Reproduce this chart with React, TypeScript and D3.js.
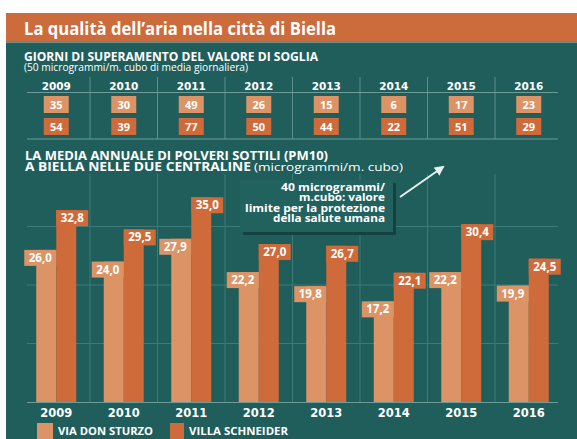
import React from "react";
import * as d3 from "d3";

const years = ["2009", "2010", "2011", "2012", "2013", "2014", "2015", "2016"];
const daysDonSturzo = [35, 30, 49, 26, 15, 6, 17, 23];
const daysSchneider = [54, 39, 77, 50, 44, 22, 51, 29];
const pmDonSturzo = [26.0, 24.0, 27.9, 22.2, 19.8, 17.2, 22.2, 19.9];
const pmSchneider = [32.8, 29.5, 35.0, 27.0, 26.7, 22.1, 30.4, 24.5];
const gridValues = [10, 20, 30];
const legendLabels = ["VIA DON STURZO", "VILLA SCHNEIDER"];
const noteLines = ["40 microgrammi/", "m.cubo: valore", "limite per la protezione", "della salute umana"];
const noteWidths = [104, 86, 140, 112];

const TEAL = "#1f5e5b";
const LIGHT = "#dc9467";
const DARK = "#cf6a3b";
const HEADER = "#cc6b3c";
const GRID = "#3d7b78";
const FONT = "'Open Sans', 'DejaVu Sans', sans-serif";
const WIDE = "'DejaVu Sans', sans-serif";

export default function App() {
  const W = 577;
  const H = 439;
  const x = d3.scaleBand<string>().domain(years).range([22.5, 562.5]).padding(0);
  const y = d3.scaleLinear().domain([0, 40]).range([402, 168]);
  const barW = 20;
  const fmt = (v: number) => d3.format(".1f")(v).replace(".", ",");
  const cx = (yr: string) => (x(yr) as number) + x.bandwidth() / 2;
  const separators = years.slice(1).map((yr) => x(yr) as number);

  return (
    <svg width={W} height={H} style={{ display: "block", position: "absolute", left: 0, top: 0 }} fontFamily={FONT}>
      <defs>
        <marker id="arr" viewBox="0 0 10 10" refX="8" refY="5" markerWidth="5" markerHeight="5" orient="auto">
          <path d="M0,0 L10,5 L0,10 z" fill="#e8f0ef" />
        </marker>
      </defs>
      <rect x={0} y={0} width={W} height={H} fill="#ffffff" />
      {/* header */}
      <rect x={6} y={13} width={W - 6} height={28} fill={HEADER} />
      <rect x={6} y={41} width={W - 6} height={1.5} fill="#8a7a6e" />
      <rect x={6} y={42.5} width={W - 6} height={H - 42.5} fill={TEAL} />
      <text x={24} y={35} fill="#fff" fontWeight={700} fontSize={17.5} textLength={312} lengthAdjust="spacingAndGlyphs">
        La qualità dell’aria nella città di Biella
      </text>

      {/* table section */}
      <text x={24} y={60.5} fill="#fff" fontWeight={700} fontSize={11.5} textLength={294} lengthAdjust="spacingAndGlyphs">
        GIORNI DI SUPERAMENTO DEL VALORE DI SOGLIA
      </text>
      <text x={24} y={71} fill="#fff" fontSize={11} textLength={224} lengthAdjust="spacingAndGlyphs">
        (50 microgrammi/m. cubo di media giornaliera)
      </text>
      {separators.map((sx, i) => (
        <line key={"ts" + i} x1={sx} x2={sx} y1={77} y2={139} stroke="#5d8f8c" strokeWidth={1} />
      ))}
      <line x1={27} x2={558} y1={92.5} y2={92.5} stroke="#6f9c99" strokeWidth={1.2} />
      <line x1={27} x2={558} y1={139} y2={139} stroke="#6f9c99" strokeWidth={1.2} />
      {years.map((yr, i) => (
        <g key={"t" + yr}>
          <text x={cx(yr)} y={89.5} textAnchor="middle" fill="#fff" fontWeight={700} fontSize={10.5} fontFamily={WIDE}>
            {yr}
          </text>
          <rect x={cx(yr) - 12.5} y={96} width={25} height={17} fill={LIGHT} />
          <text x={cx(yr)} y={108.5} textAnchor="middle" fill="#fff" fontWeight={700} fontSize={11}>
            {daysDonSturzo[i]}
          </text>
          <rect x={cx(yr) - 12.5} y={118} width={25} height={17} fill={DARK} />
          <text x={cx(yr)} y={130.5} textAnchor="middle" fill="#fff" fontWeight={700} fontSize={11}>
            {daysSchneider[i]}
          </text>
        </g>
      ))}

      {/* chart section */}
      <text x={25} y={160} fill="#fff" fontWeight={700} fontSize={11.5} textLength={303} lengthAdjust="spacingAndGlyphs">
        LA MEDIA ANNUALE DI POLVERI SOTTILI (PM10)
      </text>
      <text x={25} y={170.5} fill="#fff" fontWeight={700} fontSize={11.5} textLength={226} lengthAdjust="spacingAndGlyphs">
        A BIELLA NELLE DUE CENTRALINE
      </text>
      <text x={254} y={170.5} fill="#fff" fontSize={11} textLength={149} lengthAdjust="spacingAndGlyphs">
        (microgrammi/m. cubo)
      </text>

      {gridValues.map((g) => (
        <line key={"g" + g} x1={27} x2={558} y1={y(g)} y2={y(g)} stroke={GRID} strokeWidth={1} />
      ))}
      {separators.map((sx, i) => (
        <line key={"cs" + i} x1={sx} x2={sx} y1={174} y2={402} stroke={GRID} strokeWidth={1} />
      ))}

      {years.map((yr, i) => {
        const c = cx(yr);
        const yl = y(pmDonSturzo[i]);
        const yd = y(pmSchneider[i]);
        return (
          <g key={"b" + yr}>
            <rect x={c - barW} y={yl} width={barW} height={y(0) - yl} fill={LIGHT} />
            <rect x={c} y={yd} width={barW} height={y(0) - yd} fill={DARK} />
            <rect x={c - 32} y={yl} width={32} height={16} fill={LIGHT} />
            <text x={c - 16} y={yl + 12} textAnchor="middle" fill="#fff" fontWeight={700} fontSize={11.5}>
              {fmt(pmDonSturzo[i])}
            </text>
            <rect x={c} y={yd} width={32} height={16} fill={DARK} />
            <text x={c + 16} y={yd + 12} textAnchor="middle" fill="#fff" fontWeight={700} fontSize={11.5}>
              {fmt(pmSchneider[i])}
            </text>
            <text x={c} y={417} textAnchor="middle" fill="#fff" fontWeight={700} fontSize={11.5} fontFamily={WIDE}>
              {yr}
            </text>
          </g>
        );
      })}
      <line x1={27} x2={558} y1={402.5} y2={402.5} stroke="#6f9c99" strokeWidth={1.2} />

      {/* annotation */}
      <rect x={243} y={183} width={153} height={52} fill="#123f3d" opacity={0.9} />
      <rect x={240} y={180} width={153} height={52} fill="#21625f" />
      {noteLines.map((t, i) => (
        <text key={"n" + i} x={385} y={191 + i * 10.4} textAnchor="end" fill="#fff" fontWeight={700}
          fontSize={i === 0 ? 11 : 10} textLength={noteWidths[i]} lengthAdjust="spacingAndGlyphs">
          {t}
        </text>
      ))}
      <line x1={400} y1={197} x2={443} y2={167} stroke="#e8f0ef" strokeWidth={2} markerEnd="url(#arr)" />

      {/* legend */}
      <rect x={37} y={423} width={16} height={16} fill={LIGHT} />
      <text x={58} y={435} fill="#fff" fontWeight={700} fontSize={11} textLength={95} lengthAdjust="spacingAndGlyphs">
        {legendLabels[0]}
      </text>
      <rect x={170} y={423} width={14} height={16} fill={DARK} />
      <text x={189} y={435} fill="#fff" fontWeight={700} fontSize={11} textLength={99} lengthAdjust="spacingAndGlyphs">
        {legendLabels[1]}
      </text>
    </svg>
  );
}
